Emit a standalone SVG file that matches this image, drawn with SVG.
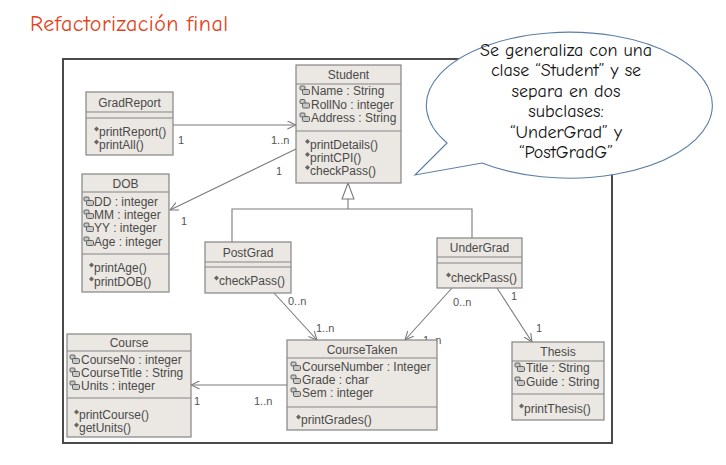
<svg xmlns="http://www.w3.org/2000/svg" width="726" height="465" viewBox="0 0 726 465">
<style>
.box{fill:#ebe7e2;stroke:#858585;stroke-width:1.2}
.sep{stroke:#858585;stroke-width:1.2}
.t{font-family:"Liberation Sans",Arial,sans-serif;font-size:12px;fill:#4a4a4a}
.h{text-anchor:middle}
.m{font-family:"Liberation Sans",Arial,sans-serif;font-size:11px;fill:#555}
.c{fill:none;stroke:#7a7a7a;stroke-width:1.1}
.call{font-family:"Comic Neue","Comic Sans MS","Liberation Sans",sans-serif;font-size:18px;fill:#111;text-anchor:middle}
</style>
<defs>
<marker id="open" viewBox="0 0 10 10" refX="9.5" refY="5" markerWidth="9" markerHeight="9" markerUnits="userSpaceOnUse" orient="auto">
<path d="M0,0.5 L9.5,5 L0,9.5" fill="none" stroke="#7a7a7a" stroke-width="1.2"/>
</marker>
<g id="ai">
<rect x="0" y="-9" width="5" height="4" rx="1" fill="#c8c8c8" stroke="#555" stroke-width="0.9"/>
<rect x="2.5" y="-5.5" width="7" height="5" rx="1.2" fill="#c8c8c8" stroke="#555" stroke-width="0.9"/>
</g>
<g id="mi">
<polygon points="0,-7 2.5,-9.5 5,-7 2.5,-4.5" fill="#666"/>
</g>
</defs>

<rect x="63" y="59" width="549" height="384" fill="#fff" stroke="#4a4a4a" stroke-width="2"/>

<text x="30" y="31" font-family="'Comic Neue','Comic Sans MS','Liberation Sans',sans-serif" font-size="22" fill="#e2431a" textLength="198">Refactorización final</text>

<g id="connectors">
<path class="c" d="M173,125 L296,125" marker-end="url(#open)"/>
<path class="c" d="M296,149 L170,210" marker-end="url(#open)"/>
<path class="c" d="M274,293 L317,340" marker-end="url(#open)"/>
<path class="c" d="M452,288 L405,340" marker-end="url(#open)"/>
<path class="c" d="M497,288 L532,342" marker-end="url(#open)"/>
<path class="c" d="M287,385 L191,385" marker-end="url(#open)"/>
<path class="c" d="M348,199 L348,209 M232,242 L232,209 L472,209 L472,238"/>
<polygon points="348,183 342,199 354,199" fill="#fff" stroke="#7a7a7a" stroke-width="1.1"/>
<text class="m" x="178" y="144">1</text>
<text class="m" x="271" y="144">1..n</text>
<text class="m" x="276" y="175">1</text>
<text class="m" x="181" y="225">1</text>
<text class="m" x="288" y="305">0..n</text>
<text class="m" x="316" y="332">1..n</text>
<text class="m" x="453" y="306">0..n</text>
<text class="m" x="423" y="344">1..n</text>
<text class="m" x="511" y="300">1</text>
<text class="m" x="536" y="332">1</text>
<text class="m" x="194" y="405">1</text>
<text class="m" x="254" y="405">1..n</text>
</g>

<g id="Student">
<rect class="box" x="296" y="65" width="105" height="118"/>
<line class="sep" x1="296" y1="84" x2="401" y2="84"/>
<line class="sep" x1="296" y1="131" x2="401" y2="131"/>
<text class="t h" x="348.5" y="79">Student</text>
<use href="#ai" x="300" y="95"/><text class="t" x="311" y="95">Name : String</text>
<use href="#ai" x="300" y="108.5"/><text class="t" x="311" y="108.5">RollNo : integer</text>
<use href="#ai" x="300" y="122"/><text class="t" x="311" y="122">Address : String</text>
<use href="#mi" x="305" y="148.5"/><text class="t" x="310" y="148.5">printDetails()</text>
<use href="#mi" x="305" y="161.5"/><text class="t" x="310" y="161.5">printCPI()</text>
<use href="#mi" x="305" y="174.5"/><text class="t" x="310" y="174.5">checkPass()</text>
</g>

<g id="GradReport">
<rect class="box" x="86" y="92" width="87" height="63"/>
<line class="sep" x1="86" y1="112" x2="173" y2="112"/>
<line class="sep" x1="86" y1="118" x2="173" y2="118"/>
<text class="t h" x="129.5" y="107">GradReport</text>
<use href="#mi" x="94" y="136"/><text class="t" x="99" y="136">printReport()</text>
<use href="#mi" x="94" y="149"/><text class="t" x="99" y="149">printAll()</text>
</g>

<g id="DOB">
<rect class="box" x="82" y="174" width="87" height="118"/>
<line class="sep" x1="82" y1="192" x2="169" y2="192"/>
<line class="sep" x1="82" y1="254" x2="169" y2="254"/>
<text class="t h" x="125.5" y="188">DOB</text>
<use href="#ai" x="84" y="206"/><text class="t" x="94" y="206">DD : integer</text>
<use href="#ai" x="84" y="219"/><text class="t" x="94" y="219">MM : integer</text>
<use href="#ai" x="84" y="232"/><text class="t" x="94" y="232">YY : integer</text>
<use href="#ai" x="84" y="246"/><text class="t" x="94" y="246">Age : integer</text>
<use href="#mi" x="89" y="272"/><text class="t" x="94" y="272">printAge()</text>
<use href="#mi" x="89" y="286"/><text class="t" x="94" y="286">printDOB()</text>
</g>

<g id="PostGrad">
<rect class="box" x="205" y="242" width="86" height="51"/>
<line class="sep" x1="205" y1="262" x2="291" y2="262"/>
<line class="sep" x1="205" y1="267" x2="291" y2="267"/>
<text class="t h" x="248" y="257">PostGrad</text>
<use href="#mi" x="214" y="285"/><text class="t" x="219" y="285">checkPass()</text>
</g>

<g id="UnderGrad">
<rect class="box" x="437" y="238" width="85" height="50"/>
<line class="sep" x1="437" y1="257" x2="522" y2="257"/>
<line class="sep" x1="437" y1="263" x2="522" y2="263"/>
<text class="t h" x="479.5" y="252">UnderGrad</text>
<use href="#mi" x="446" y="282"/><text class="t" x="451" y="282">checkPass()</text>
</g>

<g id="Course">
<rect class="box" x="67" y="334" width="124" height="103"/>
<line class="sep" x1="67" y1="351" x2="191" y2="351"/>
<line class="sep" x1="67" y1="398" x2="191" y2="398"/>
<text class="t h" x="129" y="347">Course</text>
<use href="#ai" x="70" y="364"/><text class="t" x="81" y="364">CourseNo : integer</text>
<use href="#ai" x="70" y="377"/><text class="t" x="81" y="377">CourseTitle : String</text>
<use href="#ai" x="70" y="390"/><text class="t" x="81" y="390">Units : integer</text>
<use href="#mi" x="74" y="419"/><text class="t" x="79" y="419">printCourse()</text>
<use href="#mi" x="74" y="432"/><text class="t" x="79" y="432">getUnits()</text>
</g>

<g id="CourseTaken">
<rect class="box" x="287" y="340" width="150" height="90"/>
<line class="sep" x1="287" y1="358" x2="437" y2="358"/>
<line class="sep" x1="287" y1="407" x2="437" y2="407"/>
<text class="t h" x="362" y="354">CourseTaken</text>
<use href="#ai" x="291" y="371"/><text class="t" x="302" y="371">CourseNumber : Integer</text>
<use href="#ai" x="291" y="384"/><text class="t" x="302" y="384">Grade : char</text>
<use href="#ai" x="291" y="397"/><text class="t" x="302" y="397">Sem : integer</text>
<use href="#mi" x="296" y="424"/><text class="t" x="301" y="424">printGrades()</text>
</g>

<g id="Thesis">
<rect class="box" x="512" y="342" width="92" height="78"/>
<line class="sep" x1="512" y1="361" x2="604" y2="361"/>
<line class="sep" x1="512" y1="394" x2="604" y2="394"/>
<text class="t h" x="558" y="356">Thesis</text>
<use href="#ai" x="515" y="372"/><text class="t" x="526" y="372">Title : String</text>
<use href="#ai" x="515" y="386"/><text class="t" x="526" y="386">Guide : String</text>
<use href="#mi" x="519" y="413"/><text class="t" x="524" y="413">printThesis()</text>
</g>

<g id="callout">
<path d="M447,143 L415,175 L482,163 A143,73 0 1 0 447,143 Z" fill="#fff" stroke="#5b7fa6" stroke-width="1.1"/>
<text class="call" x="566" y="56">Se generaliza con una</text>
<text class="call" x="566" y="76">clase “Student” y se</text>
<text class="call" x="566" y="97">separa en dos</text>
<text class="call" x="566" y="117">subclases:</text>
<text class="call" x="566" y="138">“UnderGrad” y</text>
<text class="call" x="566" y="158">“PostGradG”</text>
</g>
</svg>
